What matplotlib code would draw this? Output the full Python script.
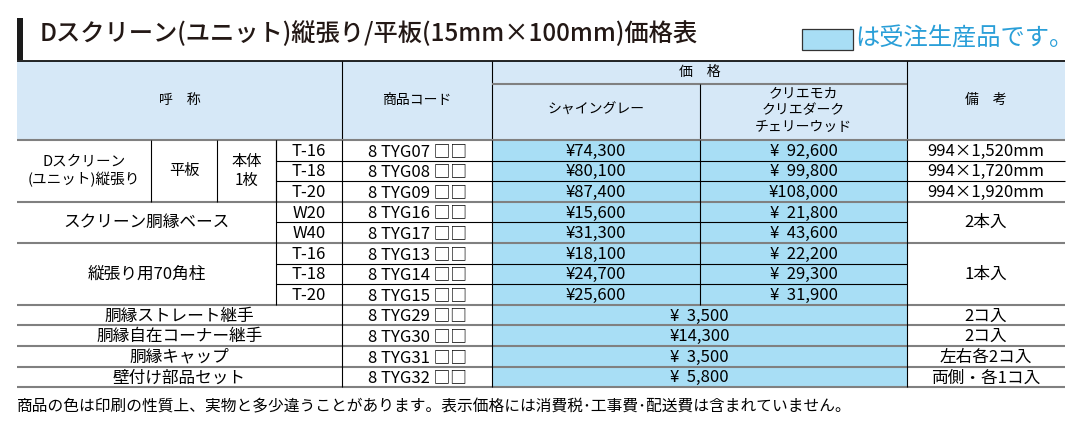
import matplotlib
matplotlib.use("Agg")
import matplotlib.pyplot as plt
from matplotlib.patches import Rectangle

plt.rcParams['font.family'] = ['Noto Sans CJK JP', 'DejaVu Sans']

title = "Dスクリーン(ユニット)縦張り/平板(15mm×100mm)価格表"
legend_text = "は受注生産品です。"
sizes = ["T-16", "T-18", "T-20", "W20", "W40", "T-16", "T-18", "T-20"]
codes = ["8 TYG07 □□", "8 TYG08 □□", "8 TYG09 □□", "8 TYG16 □□", "8 TYG17 □□",
         "8 TYG13 □□", "8 TYG14 □□", "8 TYG15 □□", "8 TYG29 □□", "8 TYG30 □□",
         "8 TYG31 □□", "8 TYG32 □□"]
price_gray = ["¥74,300", "¥80,100", "¥87,400", "¥15,600", "¥31,300",
              "¥18,100", "¥24,700", "¥25,600"]
price_wood = ["¥  92,600", "¥  99,800", "¥108,000", "¥  21,800", "¥  43,600",
              "¥  22,200", "¥  29,300", "¥  31,900"]
single_names = ["胴縁ストレート継手", "胴縁自在コーナー継手", "胴縁キャップ", "壁付け部品セット"]
single_prices = ["¥  3,500", "¥14,300", "¥  3,500", "¥  5,800"]
remarks_top = ["994×1,520mm", "994×1,720mm", "994×1,920mm"]
remarks_single = ["2コ入", "2コ入", "左右各2コ入", "両側・各1コ入"]
footnote = "商品の色は印刷の性質上、実物と多少違うことがあります。表示価格には消費税･工事費･配送費は含まれていません。"

HDR = "#d6e8f7"
PRC = "#a8def5"
GRY = "#808080"

fig = plt.figure(figsize=(10.84, 4.22), dpi=100)
ax = fig.add_axes([0, 0, 1, 1])
ax.set_xlim(0, 1084); ax.set_ylim(422, 0); ax.axis("off")

X = [17, 151, 217, 276, 342, 492, 700, 907, 1065]
top, sub, hb = 61, 84, 140
rh = 20.6
ys = [hb + i * rh for i in range(13)]
fs = 11

def rect(x0, y0, x1, y1, c):
    ax.add_patch(Rectangle((x0, y0), x1 - x0, y1 - y0, fc=c, ec="none", zorder=0))

def line(x0, y0, x1, y1, c="black", lw=0.8):
    ax.plot([x0, x1], [y0, y1], color=c, lw=lw, zorder=2, solid_capstyle="butt")

def txt(x, y, s, size=fs, **kw):
    ax.text(x, y, s, ha="center", va="center", fontsize=size, zorder=3, **kw)

# title
rect(17, 18, 23, 60, "#1a1a1a")
ax.text(40, 34, title, fontsize=17.5, fontweight="medium", va="center", ha="left", color="#231815")
ax.add_patch(Rectangle((802, 29), 51, 21, fc=PRC, ec="#333333", lw=0.9, zorder=2))
ax.text(855, 39, legend_text, fontsize=17.5, va="center", ha="left", color="#2a9fd8")

# header
rect(X[0], top, X[-1], hb, HDR)
line(X[0], top, X[-1], top, lw=1.2)
for x in (X[4], X[5], X[7]):
    line(x, top, x, hb)
line(X[5], sub, X[7], sub, GRY, 1.5)
line(X[6], sub, X[6], hb)
txt((X[0] + X[4]) / 2, 100, "呼　称", 10)
txt((X[4] + X[5]) / 2, 100, "商品コード", 10)
txt((X[5] + X[7]) / 2, 72, "価　格", 10)
txt((X[5] + X[6]) / 2, 110, "シャイングレー", 10)
txt((X[6] + X[7]) / 2, 110, "クリエモカ\nクリエダーク\nチェリーウッド", 10, linespacing=1.25)
txt((X[7] + X[8]) / 2, 100, "備　考", 10)

# price fills
rect(X[5], ys[0], X[7], ys[12], PRC)

# grid lines
group_ends = [0, 3, 5, 8, 9, 10, 11, 12]
for i in range(13):
    if i in group_ends:
        line(X[0], ys[i], X[-1], ys[i], GRY, 1.5)
    else:
        line(X[3], ys[i], X[7], ys[i])
        if i in (1, 2):
            line(X[7], ys[i], X[8], ys[i])
for x in X[1:4]:
    line(x, ys[0], x, ys[3])
line(X[3], ys[0], X[3], ys[8])
for x in (X[4], X[5], X[7]):
    line(x, ys[0], x, ys[12])
line(X[6], ys[0], X[6], ys[8])

def cy(i):
    return (ys[i] + ys[i + 1]) / 2 + 1

for i in range(8):
    txt((X[3] + X[4]) / 2, cy(i), sizes[i], 12)
    txt((X[5] + X[6]) / 2, cy(i), price_gray[i], 12)
    txt((X[6] + X[7]) / 2, cy(i), price_wood[i], 12)
for i in range(12):
    txt((X[4] + X[5]) / 2, cy(i), codes[i], 12)
for i in range(3):
    txt((X[7] + X[8]) / 2, cy(i), remarks_top[i], 12)
txt((X[0] + X[1]) / 2, (ys[0] + ys[3]) / 2, "Dスクリーン\n(ユニット)縦張り", 10.5, linespacing=1.3)
txt((X[1] + X[2]) / 2, (ys[0] + ys[3]) / 2, "平板", 11)
txt((X[2] + X[3]) / 2, (ys[0] + ys[3]) / 2, "本体\n1枚", 11, linespacing=1.1)
txt((X[0] + X[3]) / 2, ys[4], "スクリーン胴縁ベース", 12)
txt((X[7] + X[8]) / 2, ys[4], "2本入", 12)
txt((X[0] + X[3]) / 2, (ys[5] + ys[8]) / 2, "縦張り用70角柱", 12)
txt((X[7] + X[8]) / 2, (ys[5] + ys[8]) / 2, "1本入", 12)
for k in range(4):
    i = 8 + k
    txt((X[0] + X[4]) / 2, cy(i), single_names[k], 12)
    txt((X[5] + X[7]) / 2, cy(i), single_prices[k], 12)
    txt((X[7] + X[8]) / 2, cy(i), remarks_single[k], 12)

ax.text(17, 407, footnote, fontsize=11.3, va="center", ha="left")
fig.savefig("out.png", dpi=100)
